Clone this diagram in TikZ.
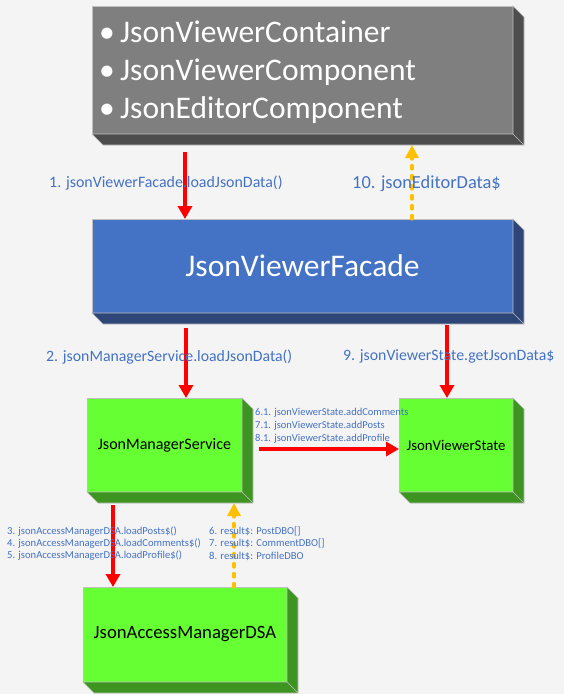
\documentclass[tikz,border=0pt]{standalone}
\usepackage{fontspec}
\setmainfont{Carlito}
\usetikzlibrary{arrows.meta,calc}
\definecolor{bg}{HTML}{F4F4F4}
\definecolor{grayfront}{HTML}{7F7F7F}
\definecolor{grayside}{HTML}{4D4D4D}
\definecolor{bluefront}{HTML}{4472C4}
\definecolor{blueside}{HTML}{2E4677}
\definecolor{greenfront}{HTML}{66FF33}
\definecolor{greenside}{HTML}{3E9421}
\definecolor{edgec}{HTML}{BFBFBF}
\definecolor{lbl}{HTML}{4472C4}
\definecolor{redc}{HTML}{FF0000}
\definecolor{yel}{HTML}{FFC000}
\newcommand\boxsides[2]{%
  \fill[#2,draw=edgec,line width=0.6pt] (#1.north east) -- ++(11,11)
    -- ([shift={(11,11)}]#1.south east) -- ([shift={(11,11)}]#1.south west)
    -- (#1.south west) -- (#1.south east) -- cycle;
  \draw[edgec,line width=0.6pt] (#1.south east) -- ++(11,11);}
\tikzset{
  face/.style={draw=edgec, line width=0.8pt, inner sep=0pt, outer sep=0pt},
  lab/.style={text=lbl, anchor=base west, inner sep=0pt},
  redarrow/.style={draw=redc, line width=3.3pt, -{Triangle[width=14pt,length=13pt]}},
  yelarrow/.style={draw=yel, line width=3.3pt, line cap=round, dash pattern=on 3.5pt off 6.5pt,
     -{Triangle[width=13pt,length=13pt,line cap=butt]}},
  white line/.style={text=white, anchor=base west, inner sep=0pt, font=\fontsize{31.5}{36}\selectfont}
}
\begin{document}
\begin{tikzpicture}[x=1pt,y=-1pt]
\useasboundingbox (0,0) rectangle (564,694);
\fill[bg] (0,0) rectangle (564,694);

% boxes
\node[face, fill=grayfront, minimum width=421pt, minimum height=128pt] (gray) at (302.5,70) {};
\boxsides{gray}{grayside}
\node[white line] (t1) at (99,42) {\makebox[21pt][l]{•}JsonViewerContainer};
\node[white line] (t2) at (99,80) {\makebox[21pt][l]{•}JsonViewerComponent};
\node[white line] (t3) at (99,118) {\makebox[21pt][l]{•}JsonEditorComponent};

\node[face, fill=bluefront, minimum width=421pt, minimum height=94pt, text=white,
      font=\fontsize{31.5}{36}\selectfont] (blue) at (302.5,266) {JsonViewerFacade};
\boxsides{blue}{blueside}

\node[face, fill=greenfront, minimum width=155pt, minimum height=94pt,
      font=\fontsize{16}{19}\selectfont] (jms) at (164.5,445) {JsonManagerService};
\boxsides{jms}{greenside}

\node[face, fill=greenfront, minimum width=114pt, minimum height=94pt,
      font=\fontsize{14.8}{18}\selectfont] (jvs) at (456,445) {JsonViewerState};
\boxsides{jvs}{greenside}

\node[face, fill=greenfront, minimum width=204pt, minimum height=95pt,
      font=\fontsize{18.7}{22}\selectfont] (dsa) at (185,634.5) {JsonAccessManagerDSA};
\boxsides{dsa}{greenside}

% connectors
\draw[redarrow] ([shift={(-117.5,18)}]gray.south) -- ([xshift=-117.5pt]blue.north);
\draw[yelarrow] ([xshift=109.5pt]blue.north) -- ([shift={(109.5,11)}]gray.south);
\draw[redarrow] ([shift={(-116.5,15)}]blue.south) -- ([xshift=21.5pt]jms.north);
\draw[redarrow] ([shift={(144.5,12)}]blue.south) -- ([xshift=-9pt]jvs.north);
\draw[redarrow] ([shift={(17,4)}]jms.east) -- ([yshift=-4pt]jvs.west);
\draw[redarrow] ([shift={(-51.5,13)}]jms.south) -- ([xshift=-72pt]dsa.north);
\draw[yelarrow] ([xshift=49pt]dsa.north) -- ([shift={(69.5,11)}]jms.south);

% labels
\node[lab, font=\fontsize{15.9}{18}\selectfont] (l1) at (49,187) {1. jsonViewerFacade.loadJsonData()};
\node[lab, font=\fontsize{18.4}{22}\selectfont] (l10) at (352,188) {10. jsonEditorData\$};
\node[lab, font=\fontsize{15.8}{18}\selectfont] (l2) at (46,361.5) {2. jsonManagerService.loadJsonData()};
\node[lab, font=\fontsize{15.8}{18}\selectfont] (l9) at (343,360.5) {9. jsonViewerState.getJsonData\$};
\node[lab, font=\fontsize{10.5}{12}\selectfont] (l61) at (255,415.5) {6.1. jsonViewerState.addComments};
\node[lab, font=\fontsize{10.5}{12}\selectfont] (l71) at (255,428.5) {7.1. jsonViewerState.addPosts};
\node[lab, font=\fontsize{10.5}{12}\selectfont] (l81) at (255,441.5) {8.1. jsonViewerState.addProfile};
\node[lab, font=\fontsize{10.6}{12}\selectfont] (l3) at (7,534.5) {3. jsonAccessManagerDSA.loadPosts\$()};
\node[lab, font=\fontsize{10.6}{12}\selectfont] (l4) at (7,546.5) {4. jsonAccessManagerDSA.loadComments\$()};
\node[lab, font=\fontsize{10.6}{12}\selectfont] (l5) at (7,558.5) {5. jsonAccessManagerDSA.loadProfile\$()};
\node[lab, font=\fontsize{10.6}{12}\selectfont] (l6) at (209,534.5) {6. result\$: PostDBO[]};
\node[lab, font=\fontsize{10.6}{12}\selectfont] (l7) at (209,546.5) {7. result\$: CommentDBO[]};
\node[lab, font=\fontsize{10.6}{12}\selectfont] (l8) at (209,559.5) {8. result\$: ProfileDBO};
\end{tikzpicture}
\end{document}
